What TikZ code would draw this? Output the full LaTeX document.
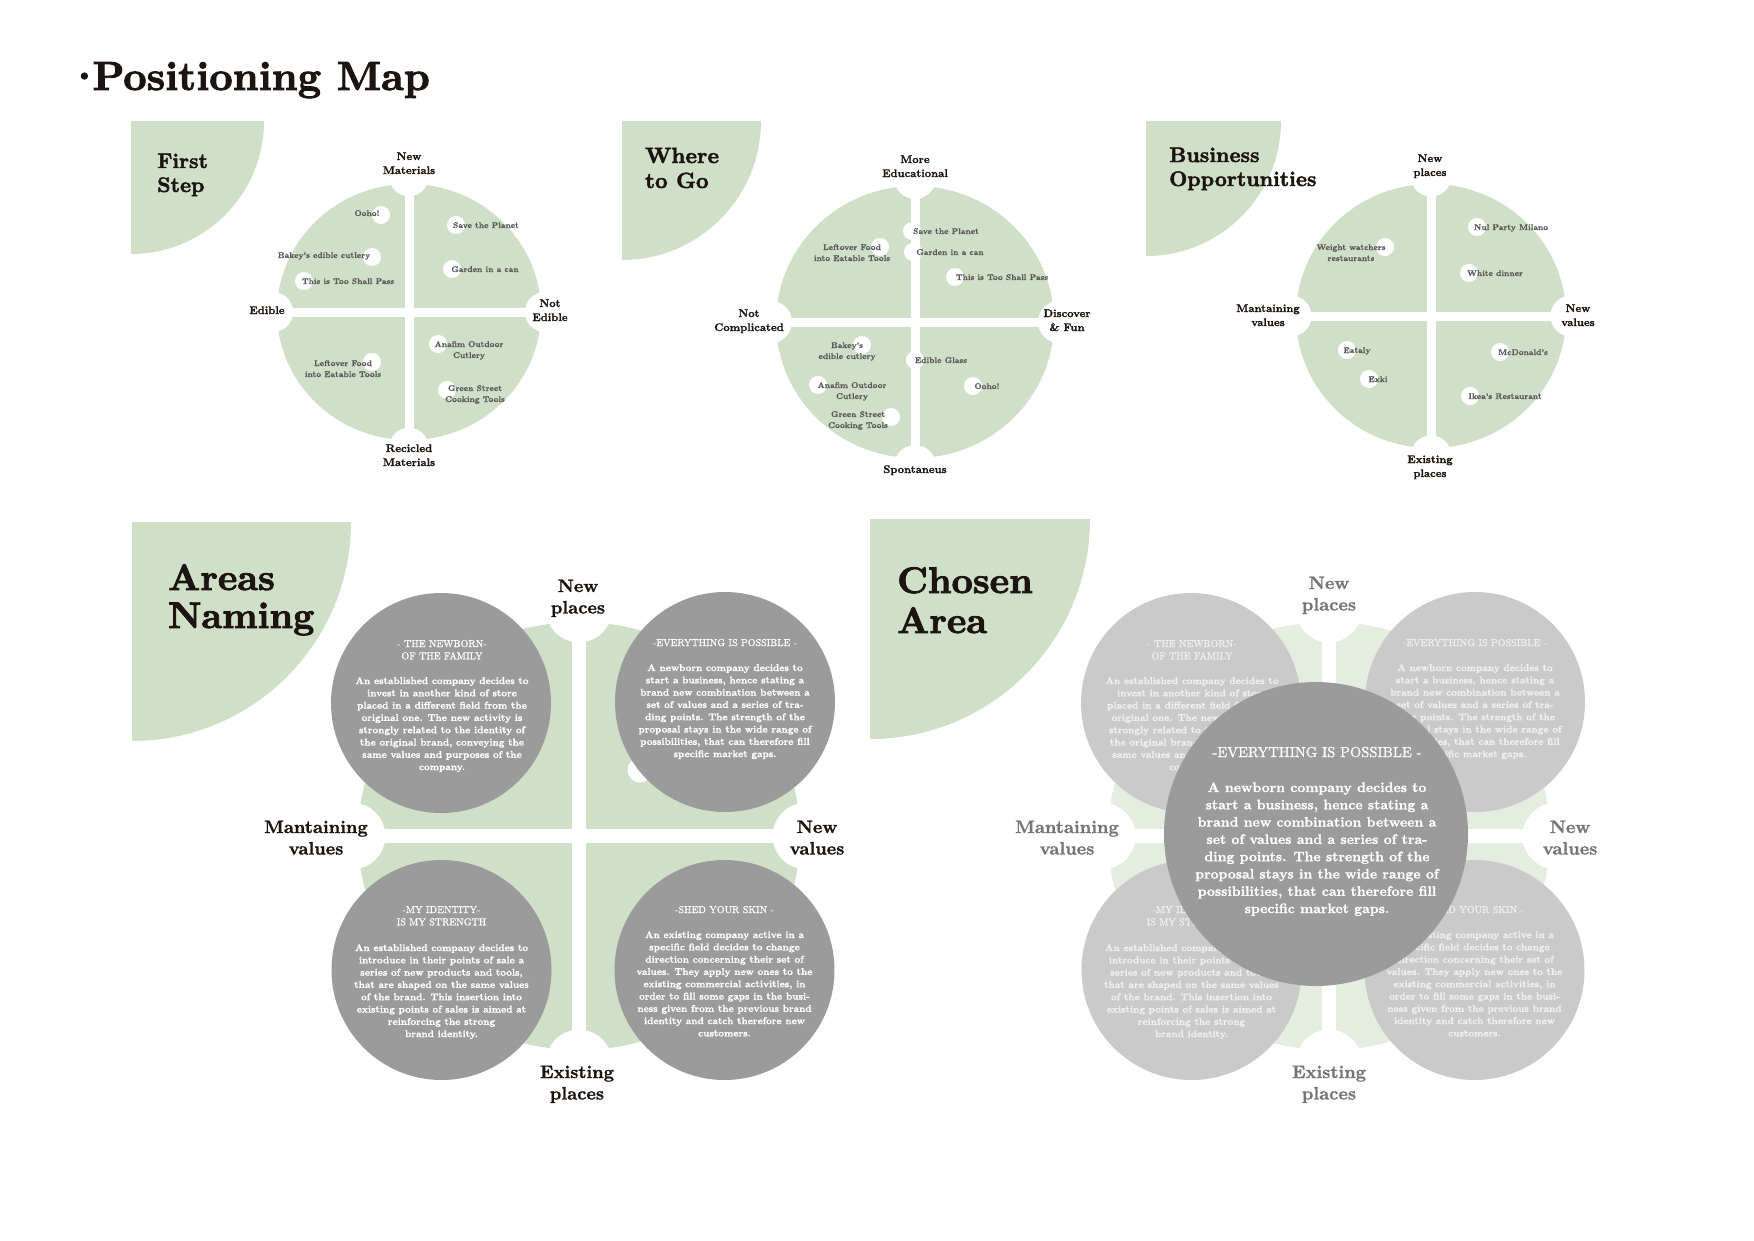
\documentclass[tikz,border=0pt]{standalone}
\usepackage{fontspec}
\usepackage{xcolor}

% heavier cuts of Latin Modern for titles, labels and body copy
\newfontfamily\titlefont{lmroman10-bold.otf}[FakeBold=2.2]
\newfontfamily\heavy{lmroman10-bold.otf}[FakeBold=1.2]
\newfontfamily\semi{lmroman10-bold.otf}[FakeBold=0.5]
\newfontfamily\capsfont{lmroman10-regular.otf}[FakeBold=1]

\definecolor{sage}{RGB}{208,223,199}
\definecolor{sagepale}{RGB}{229,236,224}
\definecolor{discgrey}{RGB}{155,155,155}
\definecolor{discpale}{RGB}{202,202,202}
\definecolor{ink}{RGB}{28,20,16}
\definecolor{itemgrey}{RGB}{88,88,88}
\definecolor{labelgrey}{RGB}{118,118,118}
\definecolor{paletext}{RGB}{240,240,240}

% centred / left stacked lines, baseline on the first line
\newcommand\stk[1]{\begin{tabular}[t]{@{}c@{}}#1\end{tabular}}
\newcommand\stl[1]{\begin{tabular}[t]{@{}l@{}}#1\end{tabular}}

% quarter-disc title tile: corner x, corner y, radius
\newcommand\tile[3]{%
  \begin{scope}
    \clip (#1,#2) rectangle ({#1+#3},{#2+#3});
    \fill[sage] (#1,#2) circle [radius=#3];
  \end{scope}}

% four-quadrant map: cx, cy, rx, ry, colour, gap
\newcommand\quadmap[6]{%
  \fill[#5] (#1,#2) ellipse [x radius=#3, y radius=#4];
  \fill[white] ({#1-#6/2},{#2-#4-10}) rectangle ({#1+#6/2},{#2+#4+10});
  \fill[white] ({#1-#3-10},{#2-#6/2}) rectangle ({#1+#3+10},{#2+#6/2});
  \foreach \a/\b in {0/-1,0/1,-1/0,1/0}
    \fill[white] ({#1+\a*1.06*#4},{#2+\b*1.06*#4}) circle [radius={0.155*#4}];}

% map entry: name, dot x, dot y, text x, text baseline, text
\newcommand\mapentry[6]{%
  \fill[white] (#2,#3) circle [radius=9];
  \node[entry] (#1) at (#4,#5) {\stk{#6}};}

\begin{document}
\begin{tikzpicture}[x=1pt,y=-1pt,
  entry/.style={inner sep=0, anchor=base, text=itemgrey,
    font=\semi\fontsize{8.3}{11}\selectfont},
  axislab/.style={inner sep=0, anchor=base, text=ink,
    font=\heavy\fontsize{11}{14}\selectfont},
  biglab/.style={inner sep=0, anchor=base, text=ink,
    font=\heavy\fontsize{18}{21.5}\selectfont},
  tiletitle/.style={inner sep=0, anchor=base west, text=ink},
  chead/.style={inner sep=0, anchor=base, text=white,
    font=\capsfont\fontsize{10}{12.3}\selectfont},
  cbody/.style={inner sep=0, anchor=base, text=white,
    font=\heavy\fontsize{9.8}{12.3}\selectfont}]

\useasboundingbox (0,0) rectangle (1754,1240);

\node[tiletitle, font=\titlefont\fontsize{40.7}{44}\selectfont] (maintitle) at (66,90) {·\kern-10pt Positioning Map};

% ---------- title tiles ----------
\tile{131}{121}{133}
\tile{622}{121}{139}
\tile{1146}{121}{135}
\tile{132}{522}{219}
\tile{870}{519}{220}

\node[tiletitle, font=\titlefont\fontsize{21}{24}\selectfont] (firststep) at (157,168) {\stl{First\\Step}};
\node[tiletitle, font=\titlefont\fontsize{22}{25}\selectfont] (wheretogo) at (645,163) {\stl{Where\\to Go}};
\node[tiletitle, font=\titlefont\fontsize{21}{24}\selectfont] (business) at (1169,162) {\stl{Business\\Opportunities}};
\node[tiletitle, font=\titlefont\fontsize{37}{38}\selectfont] (areasnaming) at (168,590) {\stl{Areas\\Naming}};
\node[tiletitle, font=\titlefont\fontsize{37}{40}\selectfont] (chosenarea) at (897,593) {\stl{Chosen\\Area}};

% ---------- map 1: First Step ----------
\quadmap{409}{312}{132}{128}{sage}{9}
\mapentry{a1}{381}{215}{367}{216}{Ooho!}
\mapentry{a2}{456}{225}{486}{228}{Save the Planet}
\mapentry{a3}{372}{257}{324}{258}{Bakey’s edible cutlery}
\mapentry{a4}{452}{269}{485}{272}{Garden in a can}
\mapentry{a5}{304}{281}{348}{284}{This is Too Shall Pass}
\mapentry{a6}{372}{362}{343}{366}{Leftover Food\\into Eatable Tools}
\mapentry{a7}{438}{344}{469}{347}{Anafim Outdoor\\Cutlery}
\mapentry{a8}{447}{390}{475}{391}{Green Street\\Cooking Tools}
\node[axislab] (a1n) at (409,160) {\stk{New\\Materials}};
\node[axislab] (a1w) at (267,314) {Edible};
\node[axislab] (a1e) at (550,307) {\stk{Not\\Edible}};
\node[axislab] (a1s) at (409,452) {\stk{Recicled\\Materials}};

% ---------- map 2: Where to Go ----------
\quadmap{915}{322}{139}{136}{sage}{9}
\mapentry{b1}{912}{231}{946}{234}{Save the Planet}
\mapentry{b2}{880}{247}{852}{250}{Leftover Food\\into Eatable Tools}
\mapentry{b3}{913}{252}{950}{255}{Garden in a can}
\mapentry{b4}{955}{277}{1002}{280}{This is Too Shall Pass}
\mapentry{b5}{862}{345}{847}{348}{Bakey’s\\edible cutlery}
\mapentry{b6}{915}{360}{941}{363}{Edible Glass}
\mapentry{b7}{818}{385}{852}{388}{Anafim Outdoor\\Cutlery}
\mapentry{b8}{973}{386}{987}{389}{Ooho!}
\mapentry{b9}{891}{417}{858}{417}{Green Street\\Cooking Tools}
\node[axislab] (b1n) at (915,163) {\stk{More\\Educational}};
\node[axislab] (b1w) at (749,317) {\stk{Not\\Complicated}};
\node[axislab] (b1e) at (1067,317) {\stk{Discover\\\& Fun}};
\node[axislab] (b1s) at (915,473) {Spontaneus};

% ---------- map 3: Business Opportunities ----------
\quadmap{1431}{316}{135}{132}{sage}{9}
\mapentry{c1}{1477}{227}{1511}{230}{Nul Party Milano}
\mapentry{c2}{1385}{247}{1351}{250}{Weight watchers\\restaurants}
\mapentry{c3}{1469}{273}{1495}{276}{White dinner}
\mapentry{c4}{1347}{350}{1357}{353}{Eataly}
\mapentry{c5}{1500}{352}{1523}{355}{McDonald’s}
\mapentry{c6}{1369}{379}{1378}{382}{Exki}
\mapentry{c7}{1470}{396}{1505}{399}{Ikea’s Restaurant}
\node[axislab] (c1n) at (1430,162) {\stk{New\\places}};
\node[axislab] (c1w) at (1268,312) {\stk{Mantaining\\values}};
\node[axislab] (c1e) at (1578,312) {\stk{New\\values}};
\node[axislab] (c1s) at (1430,463) {\stk{Existing\\places}};

% ---------- map 4: Areas Naming ----------
\quadmap{579}{836}{221}{214}{sage}{14}
\fill[white] (640,770) circle [radius=12.5];
\foreach \cx/\cy in {441/703, 725/702, 441.5/970, 724.5/970}
  \fill[discgrey] (\cx,\cy) circle [radius=110];

\node[chead] (d1h) at (442,647) {\stk{- THE NEWBORN-\\OF THE FAMILY}};
\node[cbody] (d1b) at (442,684) {\stk{An established company decides to\\invest in another kind of store\\placed in a different field from the\\original one. The new activity is\\strongly related to the identity of\\the original brand, conveying the\\same values and purposes of the\\company.}};
\node[chead] (d2h) at (725,646) {-EVERYTHING IS POSSIBLE -};
\node[cbody] (d2b) at (725,671) {\stk{A newborn company decides to\\start a business, hence stating a\\brand new combination between a\\set of values and a series of tra-\\ding points. The strength of the\\proposal stays in the wide range of\\possibilities, that can therefore fill\\specific market gaps.}};
\node[chead] (d3h) at (441.5,913) {\stk{-MY IDENTITY-\\IS MY STRENGTH}};
\node[cbody] (d3b) at (441.5,951) {\stk{An established company decides to\\introduce in their points of sale a\\series of new products and tools,\\that are shaped on the same values\\of the brand. This insertion into\\existing points of sales is aimed at\\reinforcing the strong\\brand identity.}};
\node[chead] (d4h) at (724.5,913) {-SHED YOUR SKIN -};
\node[cbody] (d4b) at (724.5,938) {\stk{An existing company active in a\\specific field decides to change\\direction concerning their set of\\values. They apply new ones to the\\existing commercial activities, in\\order to fill some gaps in the busi-\\ness given from the previous brand\\identity and catch therefore new\\customers.}};

\node[biglab] (d1n) at (578,592) {\stk{New\\places}};
\node[biglab] (d1w) at (316,833) {\stk{Mantaining\\values}};
\node[biglab] (d1e) at (817,833) {\stk{New\\values}};
\node[biglab] (d1s) at (577,1078) {\stk{Existing\\places}};

% ---------- map 5: Chosen Area ----------
\quadmap{1329}{836}{221}{214}{sagepale}{14}
\foreach \cx/\cy in {1191/703, 1475/702, 1191.5/970, 1474.5/970}
  \fill[discpale] (\cx,\cy) circle [radius=110];

\node[chead, text=paletext] (e1h) at (1192,647) {\stk{- THE NEWBORN-\\OF THE FAMILY}};
\node[cbody, text=paletext] (e1b) at (1192,684) {\stk{An established company decides to\\invest in another kind of store\\placed in a different field from the\\original one. The new activity is\\strongly related to the identity of\\the original brand, conveying the\\same values and purposes of the\\company.}};
\node[chead, text=paletext] (e2h) at (1475,646) {-EVERYTHING IS POSSIBLE -};
\node[cbody, text=paletext] (e2b) at (1475,671) {\stk{A newborn company decides to\\start a business, hence stating a\\brand new combination between a\\set of values and a series of tra-\\ding points. The strength of the\\proposal stays in the wide range of\\possibilities, that can therefore fill\\specific market gaps.}};
\node[chead, text=paletext] (e3h) at (1191.5,913) {\stk{-MY IDENTITY-\\IS MY STRENGTH}};
\node[cbody, text=paletext] (e3b) at (1191.5,951) {\stk{An established company decides to\\introduce in their points of sale a\\series of new products and tools,\\that are shaped on the same values\\of the brand. This insertion into\\existing points of sales is aimed at\\reinforcing the strong\\brand identity.}};
\node[chead, text=paletext] (e4h) at (1474.5,913) {-SHED YOUR SKIN -};
\node[cbody, text=paletext] (e4b) at (1474.5,938) {\stk{An existing company active in a\\specific field decides to change\\direction concerning their set of\\values. They apply new ones to the\\existing commercial activities, in\\order to fill some gaps in the busi-\\ness given from the previous brand\\identity and catch therefore new\\customers.}};

\fill[discgrey] (1316,834) circle [radius=152];
\node[chead, font=\capsfont\fontsize{14.5}{17.3}\selectfont] (fh) at (1317,757) {-EVERYTHING IS POSSIBLE -};
\node[cbody, font=\heavy\fontsize{13.8}{17.3}\selectfont] (fb) at (1317,792) {\stk{A newborn company decides to\\start a business, hence stating a\\brand new combination between a\\set of values and a series of tra-\\ding points. The strength of the\\proposal stays in the wide range of\\possibilities, that can therefore fill\\specific market gaps.}};

\node[biglab, text=labelgrey] (e1n) at (1329,589) {\stk{New\\places}};
\node[biglab, text=labelgrey] (e1w) at (1067,833) {\stk{Mantaining\\values}};
\node[biglab, text=labelgrey] (e1e) at (1570,833) {\stk{New\\values}};
\node[biglab, text=labelgrey] (e1s) at (1329,1078) {\stk{Existing\\places}};

\end{tikzpicture}
\end{document}
